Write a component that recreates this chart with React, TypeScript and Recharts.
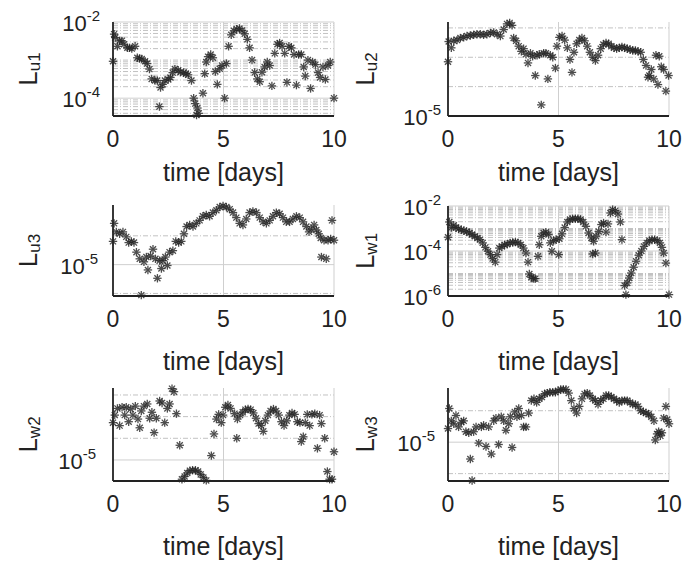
import React from 'react';
import { ScatterChart, Scatter, XAxis, YAxis, ReferenceLine } from 'recharts';

// shared x ticks (days)
const dayTicks = [0, 5, 10];

const u1Days = [0, 0.05, 0.1, 0.2, 0.3, 0.4, 0.5, 0.65, 0.75, 0.85, 1.0, 1.1, 1.2, 1.3, 1.45, 1.55, 1.65, 1.75, 1.9, 2.0, 2.1, 2.15, 2.25, 2.35, 2.5, 2.6, 2.7, 2.8, 2.95, 3.05, 3.2, 3.3, 3.4, 3.55, 3.65, 3.72, 3.82, 3.88, 3.78, 4.07, 4.15, 4.22, 4.3, 4.42, 4.52, 4.63, 4.72, 4.83, 4.93, 5.05, 5.13, 5.23, 5.35, 5.47, 5.6, 5.72, 5.84, 5.96, 6.08, 6.18, 6.29, 6.41, 6.53, 6.64, 6.74, 6.86, 6.98, 7.09, 7.19, 7.32, 7.44, 7.54, 7.65, 7.77, 7.87, 7.96, 8.07, 8.19, 8.3, 8.4, 8.52, 8.63, 8.7, 8.82, 8.94, 9.03, 9.16, 9.28, 9.37, 9.5, 9.61, 9.73, 9.83, 10.0];
const u1Values = [9.3e-4, 4.8e-3, 3.9e-3, 2.3e-3, 3.2e-3, 3.2e-3, 2.6e-3, 2.1e-3, 2.1e-3, 2.0e-3, 2.3e-3, 1.15e-3, 1.1e-3, 1.07e-3, 9.3e-4, 8.1e-4, 5.8e-4, 3.2e-4, 2.9e-4, 2.9e-4, 6.0e-5, 1.9e-4, 2.3e-4, 2.9e-4, 3.1e-4, 3.5e-4, 4.7e-4, 5.8e-4, 5.4e-4, 4.8e-4, 4.7e-4, 4.4e-4, 4.1e-4, 2.9e-4, 1.0e-4, 7.2e-5, 5.5e-5, 4.0e-5, 3.6e-5, 1.35e-4, 4.4e-4, 8.9e-4, 1.23e-3, 1.4e-3, 1.15e-3, 5.0e-4, 2.3e-4, 5.9e-4, 7.2e-4, 1.0e-4, 8.1e-4, 2.3e-3, 4.6e-3, 5.9e-3, 6.5e-3, 6.8e-3, 6.0e-3, 4.9e-3, 3.5e-3, 2.1e-3, 1.0e-3, 4.7e-4, 3.2e-4, 2.7e-4, 4.8e-4, 6.6e-4, 8.9e-4, 7.2e-4, 2.1e-4, 1.5e-3, 2.6e-3, 2.8e-3, 2.3e-3, 1.5e-3, 2.6e-4, 2.3e-3, 2.1e-3, 1.4e-3, 2.2e-4, 1.4e-3, 1.4e-3, 6.6e-4, 3.8e-4, 1.0e-3, 1.8e-4, 8.9e-4, 7.6e-4, 4.7e-4, 3.5e-4, 6.6e-4, 3.1e-4, 7.2e-4, 8.9e-4, 1.0e-4];

const u2Days = [0, 0.03, 0.15, 0.26, 0.41, 0.56, 0.71, 0.86, 1.01, 1.16, 1.31, 1.46, 1.61, 1.76, 1.92, 2.07, 2.22, 2.37, 2.52, 2.67, 2.79, 2.9, 2.97, 3.08, 3.2, 3.32, 3.42, 3.53, 3.62, 3.73, 3.83, 3.95, 4.03, 4.13, 4.22, 4.33, 4.43, 4.52, 4.63, 4.74, 4.86, 4.93, 5.04, 5.16, 5.28, 5.4, 5.52, 5.61, 5.7, 5.82, 5.94, 6.06, 6.18, 6.3, 6.42, 6.55, 6.67, 6.79, 6.91, 7.03, 7.15, 7.27, 7.39, 7.51, 7.63, 7.75, 7.87, 7.99, 8.11, 8.24, 8.36, 8.48, 8.6, 8.72, 8.84, 8.96, 9.05, 9.11, 9.2, 9.31, 9.41, 9.5, 9.56, 9.65, 9.76, 9.86, 9.98];
const u2Values = [3.6e-5, 5.8e-5, 5.0e-5, 5.9e-5, 6.0e-5, 6.3e-5, 6.4e-5, 6.6e-5, 6.7e-5, 6.8e-5, 6.9e-5, 6.9e-5, 6.8e-5, 6.9e-5, 7.1e-5, 7.2e-5, 6.9e-5, 6.6e-5, 7.7e-5, 8.8e-5, 9.0e-5, 8.5e-5, 6.3e-5, 5.9e-5, 5.2e-5, 4.6e-5, 4.9e-5, 4.3e-5, 3.5e-5, 4.4e-5, 4.1e-5, 2.6e-5, 4.2e-5, 4.3e-5, 1.3e-5, 4.4e-5, 4.4e-5, 2.4e-5, 4.2e-5, 4.0e-5, 3.1e-5, 5.2e-5, 6.4e-5, 6.6e-5, 6.0e-5, 5.0e-5, 3.8e-5, 2.8e-5, 4.5e-5, 5.5e-5, 6.0e-5, 6.3e-5, 5.9e-5, 5.2e-5, 4.5e-5, 4.0e-5, 3.7e-5, 4.2e-5, 4.9e-5, 5.4e-5, 5.6e-5, 5.5e-5, 5.2e-5, 5.0e-5, 4.9e-5, 5.0e-5, 5.1e-5, 5.0e-5, 4.9e-5, 4.8e-5, 4.7e-5, 4.7e-5, 4.6e-5, 4.5e-5, 3.8e-5, 3.3e-5, 2.5e-5, 2.6e-5, 3.0e-5, 2.4e-5, 4.2e-5, 2.1e-5, 4.1e-5, 3.2e-5, 3.0e-5, 1.8e-5, 2.6e-5];

const u3Days = [0, 0.05, 0.15, 0.3, 0.45, 0.6, 0.71, 0.83, 0.95, 1.06, 1.21, 1.28, 1.4, 1.51, 1.58, 1.7, 1.81, 1.92, 2.01, 2.11, 2.19, 2.26, 2.37, 2.46, 2.56, 2.71, 2.84, 2.97, 3.09, 3.21, 3.33, 3.47, 3.62, 3.77, 3.92, 4.07, 4.22, 4.37, 4.52, 4.68, 4.83, 4.98, 5.13, 5.28, 5.43, 5.58, 5.73, 5.88, 6.03, 6.18, 6.33, 6.49, 6.64, 6.79, 6.94, 7.09, 7.24, 7.39, 7.54, 7.69, 7.84, 7.99, 8.14, 8.3, 8.45, 8.6, 8.75, 8.87, 8.97, 9.1, 9.2, 9.31, 9.4, 9.43, 9.55, 9.65, 9.73, 9.85, 9.91, 10.0];
const u3Values = [1.75e-5, 2.7e-5, 2.2e-5, 2.1e-5, 2.2e-5, 1.95e-5, 1.7e-5, 1.75e-5, 1.7e-5, 1.35e-5, 1.15e-5, 4.8e-6, 1.07e-5, 1.2e-5, 8.8e-6, 1.23e-5, 1.45e-5, 1.15e-5, 7.2e-6, 1.1e-5, 9.1e-6, 1.1e-5, 1.2e-5, 9.8e-6, 1.35e-5, 1.4e-5, 1.75e-5, 1.7e-5, 1.75e-5, 2.1e-5, 2.5e-5, 2.6e-5, 2.5e-5, 2.7e-5, 2.9e-5, 3.2e-5, 3.3e-5, 3.2e-5, 3.5e-5, 3.7e-5, 4.0e-5, 4.1e-5, 4.0e-5, 3.8e-5, 3.5e-5, 3.1e-5, 2.7e-5, 2.6e-5, 3.0e-5, 3.5e-5, 3.6e-5, 3.5e-5, 3.1e-5, 2.8e-5, 2.7e-5, 2.9e-5, 3.2e-5, 3.5e-5, 3.4e-5, 3.1e-5, 2.8e-5, 2.8e-5, 3.0e-5, 3.2e-5, 3.1e-5, 2.8e-5, 2.5e-5, 2.2e-5, 2.35e-5, 2.6e-5, 2.3e-5, 2.1e-5, 1.9e-5, 1.2e-5, 1.8e-5, 1.15e-5, 1.8e-5, 1.85e-5, 2.9e-5, 1.8e-5];

const w1Days = [0, 0.06, 0.15, 0.26, 0.36, 0.48, 0.6, 0.72, 0.84, 0.97, 1.09, 1.21, 1.33, 1.45, 1.57, 1.69, 1.81, 1.92, 2.02, 2.14, 2.22, 2.32, 2.44, 2.56, 2.68, 2.81, 2.93, 3.05, 3.17, 3.29, 3.41, 3.53, 3.62, 3.68, 3.77, 3.88, 3.95, 4.07, 4.13, 4.22, 4.33, 4.43, 4.55, 4.63, 4.7, 4.78, 4.89, 5.01, 5.04, 5.16, 5.28, 5.4, 5.52, 5.64, 5.76, 5.88, 6.0, 6.12, 6.24, 6.36, 6.49, 6.55, 6.59, 6.67, 6.7, 6.82, 6.94, 7.04, 7.15, 7.24, 7.35, 7.45, 7.57, 7.69, 7.8, 7.87, 7.99, 8.05, 8.11, 8.2, 8.29, 8.4, 8.51, 8.63, 8.75, 8.87, 8.99, 9.11, 9.23, 9.35, 9.47, 9.59, 9.68, 9.76, 9.86, 10.0];
const w1Values = [4.1e-4, 1.95e-3, 1.1e-3, 1.4e-3, 1.1e-3, 9.8e-4, 8.9e-4, 7.9e-4, 7.4e-4, 6.3e-4, 5.4e-4, 4.5e-4, 3.8e-4, 3.2e-4, 2.3e-4, 1.45e-4, 9.8e-5, 6.9e-5, 4.6e-5, 3.2e-5, 6.9e-5, 1.35e-4, 1.6e-4, 1.9e-4, 2.0e-4, 2.3e-4, 2.4e-4, 2.5e-4, 2.3e-4, 1.9e-4, 1.35e-4, 8.1e-5, 3.2e-5, 9.5e-6, 6.8e-6, 5.9e-6, 5.9e-6, 5.8e-5, 1.9e-4, 4.5e-4, 6.3e-4, 6.9e-4, 5.4e-4, 2.3e-4, 9.8e-5, 2.9e-4, 3.2e-4, 6.9e-5, 3.5e-4, 5.8e-4, 1.1e-3, 1.95e-3, 2.5e-3, 2.7e-3, 2.7e-3, 2.7e-3, 2.5e-3, 1.95e-3, 1.25e-3, 6.3e-4, 3.8e-4, 7.4e-5, 2.7e-4, 8.1e-5, 4.5e-4, 7.4e-4, 1.5e-3, 1.75e-3, 6.9e-4, 1.6e-3, 4.9e-3, 6.9e-3, 6.2e-3, 4.4e-3, 1.95e-3, 3.2e-4, 2.9e-6, 1.15e-6, 3.8e-6, 6.3e-6, 1.05e-5, 1.9e-5, 3.5e-5, 6.5e-5, 1.0e-4, 1.6e-4, 2.3e-4, 2.9e-4, 3.2e-4, 3.2e-4, 2.9e-4, 2.3e-4, 1.45e-4, 8.1e-5, 2.9e-5, 1.15e-6];

const w2Days = [0, 0.08, 0.2, 0.3, 0.41, 0.53, 0.6, 0.71, 0.8, 0.9, 1.01, 1.13, 1.21, 1.28, 1.4, 1.55, 1.66, 1.76, 1.86, 1.96, 2.11, 2.22, 2.34, 2.46, 2.56, 2.67, 2.76, 2.87, 3.02, 3.12, 3.24, 3.36, 3.48, 3.6, 3.73, 3.85, 3.97, 4.09, 4.22, 4.45, 4.57, 4.68, 4.78, 4.9, 4.98, 5.08, 5.2, 5.32, 5.6, 5.5, 5.63, 5.75, 5.87, 5.99, 6.11, 6.23, 6.35, 6.47, 6.59, 6.71, 6.8, 6.89, 7.01, 7.13, 7.26, 7.38, 7.5, 7.62, 7.74, 7.86, 7.98, 8.1, 8.22, 8.34, 8.46, 8.52, 8.61, 8.7, 8.79, 8.9, 9.0, 9.13, 9.25, 9.35, 9.43, 9.58, 9.7, 9.8, 9.91, 10.0];
const w2Values = [3.3e-5, 4.2e-5, 5.2e-5, 3.0e-5, 5.4e-5, 4.2e-5, 5.4e-5, 3.4e-5, 5.1e-5, 4.2e-5, 5.6e-5, 3.7e-5, 2.8e-5, 4.8e-5, 5.6e-5, 6.0e-5, 3.8e-5, 4.6e-5, 2.4e-5, 3.8e-5, 6.6e-5, 6.2e-5, 3.3e-5, 5.2e-5, 6.0e-5, 9.8e-5, 8.9e-5, 4.4e-5, 1.6e-5, 5.4e-6, 5.9e-6, 6.6e-6, 7.1e-6, 7.2e-6, 7.2e-6, 6.9e-6, 6.3e-6, 5.7e-6, 5.2e-6, 1.15e-5, 2.3e-5, 3.7e-5, 4.3e-5, 3.3e-5, 4.2e-5, 5.4e-5, 5.8e-5, 5.2e-5, 2.0e-5, 4.4e-5, 3.7e-5, 4.2e-5, 4.6e-5, 5.0e-5, 5.1e-5, 5.0e-5, 4.5e-5, 3.8e-5, 3.2e-5, 3.0e-5, 2.5e-5, 3.5e-5, 4.2e-5, 4.8e-5, 5.1e-5, 4.8e-5, 4.2e-5, 3.4e-5, 3.0e-5, 3.5e-5, 4.2e-5, 4.5e-5, 4.3e-5, 3.4e-5, 3.3e-5, 1.8e-5, 2.1e-5, 3.3e-5, 4.3e-5, 3.0e-5, 4.3e-5, 4.4e-5, 1.45e-5, 4.2e-5, 3.2e-5, 2.0e-5, 6.9e-6, 5.4e-6, 5.4e-6, 1.3e-5];

const w3Days = [0, 0.06, 0.15, 0.26, 0.36, 0.48, 0.6, 0.71, 0.81, 0.94, 1.01, 1.09, 1.16, 1.27, 1.39, 1.51, 1.61, 1.72, 1.84, 1.96, 2.07, 2.17, 2.29, 2.41, 2.52, 2.62, 2.75, 2.82, 2.9, 3.02, 3.12, 3.2, 3.32, 3.42, 3.53, 3.65, 3.77, 3.89, 4.01, 4.13, 4.25, 4.37, 4.49, 4.61, 4.74, 4.86, 4.98, 5.1, 5.22, 5.34, 5.46, 5.58, 5.7, 5.82, 5.94, 6.06, 6.18, 6.3, 6.42, 6.55, 6.67, 6.79, 6.91, 7.03, 7.15, 7.27, 7.39, 7.51, 7.63, 7.75, 7.87, 7.99, 8.11, 8.24, 8.36, 8.48, 8.6, 8.72, 8.84, 8.96, 9.08, 9.2, 9.32, 9.38, 9.46, 9.53, 9.61, 9.68, 9.76, 9.86, 9.92, 10.0];
const w3Values = [1.35e-5, 2.1e-5, 1.6e-5, 1.5e-5, 1.8e-5, 1.4e-5, 1.55e-5, 1.6e-5, 1.26e-5, 1.23e-5, 6.9e-6, 4.3e-6, 1.26e-5, 1.4e-5, 9.8e-6, 1.4e-5, 1.45e-5, 9.1e-6, 1.4e-5, 7.7e-6, 1.6e-5, 1.7e-5, 9.5e-6, 1.75e-5, 1.6e-5, 1.3e-5, 1.5e-5, 1.75e-5, 8.9e-6, 1.95e-5, 1.75e-5, 2.1e-5, 1.8e-5, 1.4e-5, 1.4e-5, 1.9e-5, 2.5e-5, 2.6e-5, 2.4e-5, 2.6e-5, 2.7e-5, 2.9e-5, 2.95e-5, 3.0e-5, 3.0e-5, 3.0e-5, 3.1e-5, 3.2e-5, 3.2e-5, 3.2e-5, 2.95e-5, 2.5e-5, 2.1e-5, 1.9e-5, 2.2e-5, 2.6e-5, 2.9e-5, 2.95e-5, 2.8e-5, 2.6e-5, 2.5e-5, 2.3e-5, 2.5e-5, 2.6e-5, 2.8e-5, 2.8e-5, 2.7e-5, 2.6e-5, 2.5e-5, 2.4e-5, 2.5e-5, 2.5e-5, 2.5e-5, 2.4e-5, 2.3e-5, 2.3e-5, 2.2e-5, 2.0e-5, 1.95e-5, 1.9e-5, 1.85e-5, 1.75e-5, 1.6e-5, 1.05e-5, 1.2e-5, 1.26e-5, 1.15e-5, 1.23e-5, 1.7e-5, 2.2e-5, 1.65e-5, 1.5e-5];

// minor grid lines 2..9 x 10^e for the dense log panels
const decadeSteps = (exps: number[]) =>
  exps.flatMap((e) => [2, 3, 4, 5, 6, 7, 8, 9].map((m) => m * Math.pow(10, e)));

const FONT = '"Liberation Sans", Arial, Helvetica, sans-serif';
const INK = '#222222';

interface PanelDef {
  sub: string;
  days: number[];
  values: number[];
  domain: [number, number];
  major: number[];
  minor: number[];
  left: number;
  top: number;
  width: number;
  height: number;
  plot: { l: number; r: number; t: number; b: number };
  xLabelGap: number;
  yTickGap: number;
  yLabelX: number;
}

const panels: PanelDef[] = [
  {
    sub: 'u1', days: u1Days, values: u1Values, domain: [3.4e-5, 1e-2], major: [1e-4, 1e-2],
    minor: [...decadeSteps([-5]).filter((v) => v > 3.4e-5), ...decadeSteps([-4]), 1e-3, ...decadeSteps([-3])],
    left: 0, top: 0, width: 350, height: 190, plot: { l: 113, r: 334, t: 22, b: 116 },
    xLabelGap: 65, yTickGap: 13, yLabelX: 37
  },
  {
    sub: 'u2', days: u2Days, values: u2Values, domain: [1e-5, 9.2e-5], major: [1e-5], minor: [2e-5, 4e-5, 8e-5],
    left: 346, top: 0, width: 346, height: 190, plot: { l: 448, r: 669, t: 22, b: 116 },
    xLabelGap: 65, yTickGap: 7, yLabelX: 374
  },
  {
    sub: 'u3', days: u3Days, values: u3Values, domain: [4.7e-6, 4.2e-5], major: [1e-5], minor: [5e-6, 2e-5],
    left: 0, top: 190, width: 350, height: 185, plot: { l: 113, r: 334, t: 205, b: 296 },
    xLabelGap: 74, yTickGap: 15, yLabelX: 37
  },
  {
    sub: 'w1', days: w1Days, values: w1Values, domain: [1e-6, 1e-2], major: [1e-6, 1e-4, 1e-2],
    minor: [...decadeSteps([-6]), 1e-5, ...decadeSteps([-5]), ...decadeSteps([-4]), 1e-3, ...decadeSteps([-3])],
    left: 346, top: 190, width: 346, height: 185, plot: { l: 448, r: 669, t: 206, b: 296 },
    xLabelGap: 74, yTickGap: 7, yLabelX: 374
  },
  {
    sub: 'w2', days: w2Days, values: w2Values, domain: [5.1e-6, 1e-4], major: [1e-5], minor: [2e-5, 4e-5, 8e-5],
    left: 0, top: 375, width: 350, height: 187, plot: { l: 113, r: 334, t: 388, b: 481 },
    xLabelGap: 74, yTickGap: 17, yLabelX: 37
  },
  {
    sub: 'w3', days: w3Days, values: w3Values, domain: [4.25e-6, 3.3e-5], major: [1e-5], minor: [5e-6, 2e-5],
    left: 346, top: 375, width: 346, height: 187, plot: { l: 448, r: 669, t: 388, b: 481 },
    xLabelGap: 74, yTickGap: 13, yLabelX: 374
  }
];

// MATLAB style '*' marker
const Star = (props: any) => {
  const { cx, cy } = props;
  if (cx == null || cy == null) return null;
  const r = 4.2;
  const d = r * 0.72;
  return (
    <g stroke="#262626" strokeWidth={1.3} opacity={0.82}>
      <line x1={cx - r} y1={cy} x2={cx + r} y2={cy} />
      <line x1={cx} y1={cy - r} x2={cx} y2={cy + r} />
      <line x1={cx - d} y1={cy - d} x2={cx + d} y2={cy + d} />
      <line x1={cx - d} y1={cy + d} x2={cx + d} y2={cy - d} />
    </g>
  );
};

const LogPanel: React.FC<{ p: PanelDef }> = ({ p }) => {
  const data = p.days.map((t, i) => ({ t, v: p.values[i] }));
  const bottomY = p.plot.b - p.top;

  const xTick = (props: any) => (
    <text x={props.x} y={bottomY + 31} textAnchor="middle" fontSize={23} fontFamily={FONT} fill={INK}>
      {props.payload.value}
    </text>
  );

  const yTick = (props: any) => {
    const exp = Math.round(Math.log10(props.payload.value));
    return (
      <text x={p.plot.l - p.left - p.yTickGap} y={props.y + 9} textAnchor="end" fontFamily={FONT} fill={INK}>
        <tspan fontSize={22}>10</tspan>
        <tspan fontSize={15} dy={-10}>{exp}</tspan>
      </text>
    );
  };

  const yLabel = () => {
    const cy = (p.plot.t + p.plot.b) / 2 - p.top;
    return (
      <text
        transform={`translate(${p.yLabelX - p.left},${cy}) rotate(-90)`}
        textAnchor="middle"
        fontFamily={FONT}
        fill={INK}
      >
        <tspan fontSize={26}>L</tspan>
        <tspan fontSize={17} dy={3}>{p.sub}</tspan>
      </text>
    );
  };

  const xLabel = () => (
    <text
      x={(p.plot.l + p.plot.r) / 2 - p.left}
      y={bottomY + p.xLabelGap}
      textAnchor="middle"
      fontSize={25}
      fontFamily={FONT}
      fill={INK}
    >
      time [days]
    </text>
  );

  return (
    <div style={{ position: 'absolute', left: p.left, top: p.top }}>
      <ScatterChart
        width={p.width}
        height={p.height}
        margin={{ top: p.plot.t - p.top, right: p.left + p.width - p.plot.r, bottom: 0, left: 0 }}
      >
        <XAxis
          type="number"
          dataKey="t"
          domain={[0, 10]}
          ticks={dayTicks}
          height={p.top + p.height - p.plot.b}
          tickSize={0}
          tickMargin={0}
          tickLine={false}
          tick={xTick}
          axisLine={{ stroke: INK, strokeWidth: 1.8 }}
          label={xLabel}
        />
        <YAxis
          type="number"
          dataKey="v"
          scale="log"
          domain={p.domain}
          ticks={p.major}
          width={p.plot.l - p.left}
          tickSize={0}
          tickMargin={0}
          tickLine={false}
          tick={yTick}
          axisLine={{ stroke: INK, strokeWidth: 1.8 }}
          label={yLabel}
        />
        {p.minor.map((v) => (
          <ReferenceLine key={`mn${v}`} y={v} stroke="#c2c2c2" strokeDasharray="5 2 1 2" />
        ))}
        {p.major.map((v) => (
          <ReferenceLine key={`mj${v}`} y={v} stroke="#cfcfcf" />
        ))}
        <ReferenceLine x={5} stroke="#cfcfcf" />
        <ReferenceLine x={10} stroke="#cfcfcf" />
        <Scatter data={data} shape={Star} isAnimationActive={false} />
      </ScatterChart>
    </div>
  );
};

export default function App() {
  return (
    <div style={{ position: 'absolute', left: 0, top: 0, width: 692, height: 562, background: '#fff', overflow: 'hidden' }}>
      {panels.map((p) => (
        <LogPanel key={p.sub} p={p} />
      ))}
    </div>
  );
}
